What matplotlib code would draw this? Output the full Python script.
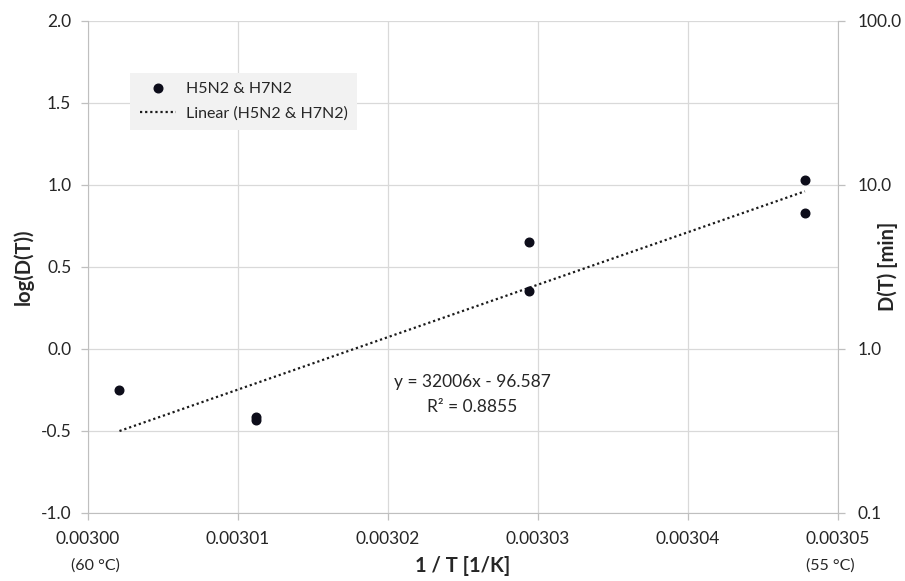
import matplotlib.pyplot as plt
import matplotlib.transforms as mtransforms
from matplotlib.ticker import FixedLocator, FormatStrFormatter, NullLocator
import numpy as np

# 1/T [1/K] and log10 of D(T)
inv_T = [0.0030021, 0.0030112, 0.0030112, 0.0030294, 0.0030294, 0.0030478, 0.0030478]
log_D = [-0.25, -0.415, -0.435, 0.652, 0.353, 1.032, 0.827]

# Excel linear trendline
slope = 32006
intercept = -96.587
r2 = 0.8855

series_name = 'H5N2 & H7N2'
x_ticks = [0.00300, 0.00301, 0.00302, 0.00303, 0.00304, 0.00305]
y_ticks = [-1.0, -0.5, 0.0, 0.5, 1.0, 1.5, 2.0]
d_ticks = [0.1, 1.0, 10.0, 100.0]

plt.rcParams['font.family'] = ['Lato', 'DejaVu Sans']

fig = plt.figure(figsize=(9.05, 5.81), dpi=100)
ax = fig.add_axes([0.0972, 0.1176, 0.8287, 0.8463])

grid_c = '#d9d9d9'
axis_c = '#bfbfbf'
text_c = '#262626'

# trendline drawn across the range of the data
x_fit = np.array([min(inv_T), max(inv_T)])
y_fit = slope * x_fit + intercept
ax.plot(inv_T, log_D, 'o', color='#0d0d1a', markersize=6.2, label=series_name, zorder=4)
ax.plot(x_fit, y_fit, linestyle=(0, (1, 1.3)), color='#1a1a1a', linewidth=1.6,
        label=f'Linear ({series_name})', zorder=3)

ax.set_xlim(0.00300, 0.00305)
ax.set_ylim(-1.0, 2.0)
ax.xaxis.set_major_locator(FixedLocator(x_ticks))
ax.yaxis.set_major_locator(FixedLocator(y_ticks))
ax.xaxis.set_major_formatter(FormatStrFormatter('%.5f'))
ax.yaxis.set_major_formatter(FormatStrFormatter('%.1f'))
ax.grid(True, color=grid_c, linewidth=0.9)
ax.set_axisbelow(True)
for side in ['left', 'bottom']:
    ax.spines[side].set_color(axis_c)
for side in ['top', 'right']:
    ax.spines[side].set_visible(False)
ax.tick_params(axis='both', colors=axis_c, labelcolor=text_c, labelsize=12.5,
               length=5, width=0.9, direction='out')
ax.tick_params(axis='x', pad=8)
ax.tick_params(axis='y', pad=7)

ax.set_xlabel('1 / T [1/K]', fontsize=14.5, fontweight='bold', color=text_c)
ax.xaxis.set_label_coords(0.5, -0.088)
ax.set_ylabel('log(D(T))', fontsize=14.5, fontweight='bold', color=text_c)
ax.yaxis.set_label_coords(-0.072, 0.5)

# temperatures under the end ticks
trans = mtransforms.blended_transform_factory(ax.transData, ax.transAxes)
ax.text(0.003000 + 0.0000005, -0.107, '(60 °C)', transform=trans, ha='center', va='center',
        fontsize=11.5, color=text_c)
ax.text(0.003050 - 0.0000005, -0.107, '(55 °C)', transform=trans, ha='center', va='center',
        fontsize=11.5, color=text_c)

# trendline equation
ax.text(0.0030256, -0.20, f'y = {slope}x - {abs(intercept)}', ha='center', va='center',
        fontsize=12.5, color=text_c)
ax.text(0.0030256, -0.355, f'R² = {r2}', ha='center', va='center',
        fontsize=12.5, color=text_c)

leg = ax.legend(loc='upper left', bbox_to_anchor=(0.056, 0.895), borderaxespad=0,
                fontsize=11.5, frameon=True, fancybox=False, handlelength=2.3,
                handletextpad=0.6, borderpad=0.6, labelspacing=0.6)
leg.get_frame().set_facecolor('#f2f2f2')
leg.get_frame().set_edgecolor('none')
leg.get_frame().set_alpha(1.0)
for t in leg.get_texts():
    t.set_color(text_c)

# secondary axis: D(T) in minutes on a log scale
ax2 = ax.twinx()
ax2.set_yscale('log')
ax2.set_ylim(0.1, 100)
ax2.yaxis.set_major_locator(FixedLocator(d_ticks))
ax2.yaxis.set_minor_locator(NullLocator())
ax2.yaxis.set_major_formatter(FormatStrFormatter('%.1f'))
for side in ['left', 'top', 'bottom']:
    ax2.spines[side].set_visible(False)
ax2.spines['right'].set_color(axis_c)
ax2.tick_params(axis='y', colors=axis_c, labelcolor=text_c, labelsize=12.5,
                length=5, width=0.9, direction='out', pad=9)
ax2.set_ylabel('D(T) [min]', fontsize=14.5, fontweight='bold', color=text_c)
ax2.yaxis.set_label_coords(1.052, 0.5)

fig.savefig('out.png', dpi=100)
